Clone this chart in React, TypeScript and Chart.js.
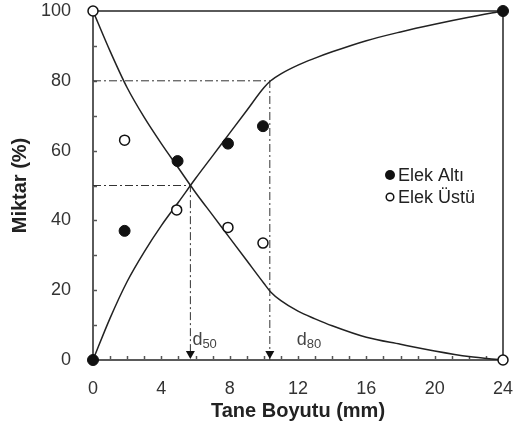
import React, { useEffect, useRef } from "react";
import { Chart, registerables } from "chart.js";
Chart.register(...registerables);

const FONT = "'Liberation Sans', Arial, sans-serif";

const xTickValues = [0, 4, 8, 12, 16, 20, 24];
const yTickValues = [0, 20, 40, 60, 80, 100];

const curveX = [0, 1, 2, 3, 4, 5, 6, 7, 8, 9, 10, 10.4, 11, 12, 13, 14, 16, 18, 20, 22, 24];
const altiCurveY = [0, 12, 22.5, 31, 38.5, 45.2, 52, 58.5, 65, 71.5, 78, 80, 82, 84.5, 86.5, 88.3, 91.5, 94, 96.2, 98.2, 100];
const ustuCurveY = [100, 88.5, 78, 69.5, 62, 55, 48, 41.5, 35, 28.5, 22, 19.5, 17, 14, 11.8, 9.8, 6.5, 4.5, 2.6, 1, 0];

const sampleX = [0, 1.85, 4.95, 7.9, 9.95, 24];
const altiY = [0, 37, 57, 62, 67, 100];
const ustuX = [0, 1.85, 4.9, 7.9, 9.95, 24];
const ustuY = [100, 63, 43, 38, 33.5, 0];

const d50 = 5.7;
const d80 = 10.35;
const legendLabels = ["Elek Altı", "Elek Üstü"];

const pts = (xs: number[], ys: number[]) => xs.map((x, i) => ({ x, y: ys[i] }));

const decorPlugin = {
  id: "decor",
  beforeDatasetsDraw(chart: any) {
    const { ctx, chartArea: a, scales } = chart;
    const xs = scales.x;
    const ys = scales.y;
    ctx.save();
    ctx.strokeStyle = "#555";
    ctx.lineWidth = 1.5;
    for (let v = 1; v < 24; v++) {
      const px = Math.round(xs.getPixelForValue(v)) + 0.5;
      ctx.beginPath();
      ctx.moveTo(px, a.bottom);
      ctx.lineTo(px, a.bottom - 4);
      ctx.stroke();
    }
    for (let v = 10; v < 100; v += 10) {
      const py = Math.round(ys.getPixelForValue(v)) + 0.5;
      ctx.beginPath();
      ctx.moveTo(a.left, py);
      ctx.lineTo(a.left + 4, py);
      ctx.stroke();
    }
    ctx.lineWidth = 2;
    ctx.strokeStyle = "#5a5a5a";
    ctx.strokeRect(a.left, a.top, a.right - a.left, a.bottom - a.top);
    ctx.restore();
  },
  afterDatasetsDraw(chart: any) {
    const { ctx, chartArea: a, scales } = chart;
    const xs = scales.x;
    ctx.save();
    ctx.fillStyle = "#111";
    [d50, d80].forEach((d) => {
      const px = xs.getPixelForValue(d);
      ctx.beginPath();
      ctx.moveTo(px - 4.5, a.bottom - 9);
      ctx.lineTo(px + 4.5, a.bottom - 9);
      ctx.lineTo(px, a.bottom - 1);
      ctx.closePath();
      ctx.fill();
    });
    ctx.fillStyle = "#444";
    ctx.textBaseline = "alphabetic";
    ctx.textAlign = "left";
    const drawD = (px: number, sub: string) => {
      ctx.font = `18px ${FONT}`;
      ctx.fillText("d", px, a.bottom - 15);
      const w = ctx.measureText("d").width;
      ctx.font = `13px ${FONT}`;
      ctx.fillText(sub, px + w, a.bottom - 12);
    };
    drawD(xs.getPixelForValue(d50) + 2, "50");
    drawD(xs.getPixelForValue(d80) + 27, "80");
    const lx = a.right - 113;
    const ly1 = a.top + 164;
    const ly2 = a.top + 186;
    ctx.fillStyle = "#111";
    ctx.beginPath();
    ctx.arc(lx, ly1, 5, 0, Math.PI * 2);
    ctx.fill();
    ctx.strokeStyle = "#111";
    ctx.lineWidth = 1.5;
    ctx.fillStyle = "#fff";
    ctx.beginPath();
    ctx.arc(lx, ly2, 3.8, 0, Math.PI * 2);
    ctx.fill();
    ctx.stroke();
    ctx.fillStyle = "#222";
    ctx.font = `18px ${FONT}`;
    ctx.textBaseline = "middle";
    ctx.fillText(legendLabels[0], lx + 8, ly1 + 1);
    ctx.fillText(legendLabels[1], lx + 8, ly2 + 1);
    ctx.restore();
  },
};

export default function App() {
  const ref = useRef<HTMLCanvasElement | null>(null);
  useEffect(() => {
    if (!ref.current) return;
    const chart = new Chart(ref.current, {
      type: "scatter",
      data: {
        datasets: [
          {
            label: legendLabels[0],
            data: pts(sampleX, altiY),
            pointRadius: 5.5,
            pointBackgroundColor: "#111",
            pointBorderColor: "#111",
            pointBorderWidth: 1,
            showLine: false,
            clip: false,
          } as any,
          {
            label: legendLabels[1],
            data: pts(ustuX, ustuY),
            pointRadius: 5,
            pointBackgroundColor: "#fff",
            pointBorderColor: "#111",
            pointBorderWidth: 1.5,
            showLine: false,
            clip: false,
          } as any,
          {
            label: "altiCurve",
            data: pts(curveX, altiCurveY),
            showLine: true,
            pointRadius: 0,
            borderColor: "#222",
            borderWidth: 1.5,
            cubicInterpolationMode: "monotone",
          } as any,
          {
            label: "ustuCurve",
            data: pts(curveX, ustuCurveY),
            showLine: true,
            pointRadius: 0,
            borderColor: "#222",
            borderWidth: 1.5,
            cubicInterpolationMode: "monotone",
          } as any,
          {
            label: "d80",
            data: [
              { x: 0, y: 80 },
              { x: d80, y: 80 },
              { x: d80, y: 0 },
            ],
            showLine: true,
            pointRadius: 0,
            borderColor: "#333",
            borderWidth: 1,
            borderDash: [8, 3, 2, 3],
          } as any,
          {
            label: "d50",
            data: [
              { x: 0, y: 50 },
              { x: d50, y: 50 },
              { x: d50, y: 0 },
            ],
            showLine: true,
            pointRadius: 0,
            borderColor: "#333",
            borderWidth: 1,
            borderDash: [8, 3, 2, 3],
          } as any,
        ],
      },
      options: {
        responsive: false,
        animation: false,
        layout: { padding: { left: 0, top: 11, right: 13, bottom: 0 } },
        plugins: { legend: { display: false }, tooltip: { enabled: false } },
        scales: {
          x: {
            type: "linear",
            min: 0,
            max: 24,
            afterFit: (s: any) => {
              s.height = 72;
              s.paddingLeft = 0;
              s.paddingRight = 0;
            },
            afterBuildTicks: (s: any) => {
              s.ticks = xTickValues.map((v) => ({ value: v }));
            },
            grid: { display: false },
            border: { display: false },
            ticks: {
              padding: 10,
              color: "#333",
              font: { family: FONT, size: 18 },
            },
            title: {
              display: true,
              text: "Tane Boyutu (mm)",
              color: "#222",
              font: { family: FONT, size: 20, weight: "bold" },
              padding: { top: 0, bottom: 9 },
            },
          },
          y: {
            type: "linear",
            min: 0,
            max: 100,
            afterFit: (s: any) => {
              s.width = 93;
              s.paddingTop = 0;
              s.paddingBottom = 0;
            },
            afterBuildTicks: (s: any) => {
              s.ticks = yTickValues.map((v) => ({ value: v }));
            },
            grid: { display: false },
            border: { display: false },
            ticks: {
              padding: 14,
              color: "#333",
              font: { family: FONT, size: 18 },
            },
            title: {
              display: true,
              text: "Miktar (%)",
              color: "#222",
              font: { family: FONT, size: 20, weight: "bold" },
              padding: { top: 8, bottom: 0 },
            },
          },
        },
      },
      plugins: [decorPlugin],
    });
    return () => chart.destroy();
  }, []);
  return (
    <div style={{ position: "fixed", left: 0, top: 0, width: 516, height: 432, background: "#fff" }}>
      <canvas ref={ref} width={516} height={432} style={{ display: "block" }} />
    </div>
  );
}
